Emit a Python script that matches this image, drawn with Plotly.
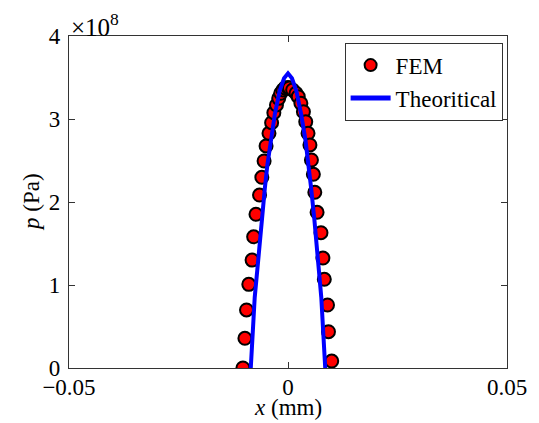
import plotly.graph_objects as go

# FEM contact pressure (x in mm, p in units of 1e8 Pa)
fem_x = [-0.01029, -0.00984, -0.00947, -0.00895, -0.00820, -0.00784, -0.00731, -0.00650,
         -0.00597, -0.00546, -0.00501, -0.00434, -0.00374, -0.00323, -0.00263, -0.00212,
         -0.00167, -0.00116, -0.00067, 0.0,
         0.00033, 0.00107, 0.00183, 0.00234, 0.00294, 0.00352, 0.00405, 0.00457, 0.00501,
         0.00535, 0.00579, 0.00612, 0.00664, 0.00753, 0.00797, 0.00829, 0.00902, 0.00924, 0.00998]
fem_p = [0.0, 0.358, 0.699, 1.008, 1.300, 1.581, 1.852, 2.084,
         2.298, 2.494, 2.675, 2.828, 2.955, 3.076, 3.169, 3.249,
         3.310, 3.350, 3.375, 3.38,
         3.375, 3.350, 3.310, 3.269, 3.189, 3.088, 2.967, 2.828, 2.687,
         2.506, 2.334, 2.117, 1.876, 1.630, 1.325, 1.069, 0.759, 0.437, 0.084]

# Theoretical pressure
theo_x = [-0.0085, -0.0076, -0.0068, -0.0060, -0.0053, -0.0047, -0.0040, -0.0030, -0.0019, -0.0009, 0.0,
          0.0009, 0.0019, 0.0030, 0.0040, 0.0047, 0.0053, 0.0060, 0.0068, 0.0076, 0.0085]
theo_p = [0.0, 0.85, 1.30, 1.80, 2.16, 2.45, 2.74, 3.06, 3.34, 3.49, 3.55,
          3.49, 3.34, 3.06, 2.74, 2.45, 2.16, 1.80, 1.30, 0.85, 0.0]

x_ticks = [-0.05, 0, 0.05]
x_tick_labels = ["\u22120.05", "0", "0.05"]
y_ticks = [0, 1, 2, 3, 4]
y_tick_labels = ["0", "1", "2", "3", "4"]

FONT = "Liberation Serif, Times New Roman, serif"
FS = 23

fig = go.Figure()
fig.add_trace(go.Scatter(
    x=fem_x, y=fem_p, mode="markers", name="FEM",
    marker=dict(size=13, color="#ff0000", line=dict(color="black", width=2)),
))
fig.add_trace(go.Scatter(
    x=theo_x, y=theo_p, mode="lines", name="Theoritical",
    line=dict(color="#0000ff", width=4),
))

axis_common = dict(
    showline=True, linecolor="#333333", linewidth=1.2, mirror="allticks",
    ticks="inside", ticklen=6, tickcolor="#333333", showgrid=False, zeroline=False,
    tickfont=dict(family=FONT, size=FS, color="black"),
)
fig.update_xaxes(range=[-0.05, 0.05], tickvals=x_ticks, ticktext=x_tick_labels,
                 ticklabelstandoff=-2,
                 **axis_common)
fig.update_yaxes(range=[0, 4], tickvals=y_ticks, ticktext=y_tick_labels,
                 ticklabelstandoff=3,
                 **axis_common)

# axis titles as annotations for exact placement
fig.add_annotation(text="<i>x</i> (mm)", xref="paper", yref="paper", x=0.5, y=-0.12,
                   xanchor="center", yanchor="middle", showarrow=False,
                   font=dict(family=FONT, size=FS, color="black"))
fig.add_annotation(text="<i>p</i> (Pa)", xref="paper", yref="paper", x=-0.087, y=0.5,
                   xanchor="center", yanchor="middle", showarrow=False, textangle=-90,
                   font=dict(family=FONT, size=FS, color="black"))

fig.add_annotation(text="\u00d710<sup>8</sup>", xref="paper", yref="paper", x=0.0, y=1.0,
                   xanchor="left", yanchor="bottom", showarrow=False, yshift=-7,
                   font=dict(family=FONT, size=25, color="black"))

# page body has an 8px margin, so the figure is sized to fit the 539x423 window
fig.update_layout(
    width=531, height=415,
    margin=dict(l=61, r=21, t=28, b=55),
    paper_bgcolor="white", plot_bgcolor="white",
    font=dict(family=FONT, size=FS, color="black"),
    legend=dict(x=0.99, y=0.98, xanchor="right", yanchor="top",
                bgcolor="white", bordercolor="#333333", borderwidth=1,
                font=dict(family=FONT, size=FS, color="black"),
                tracegroupgap=0, itemsizing="constant", itemwidth=40),
    showlegend=True,
)

fig.write_html("out.html")
